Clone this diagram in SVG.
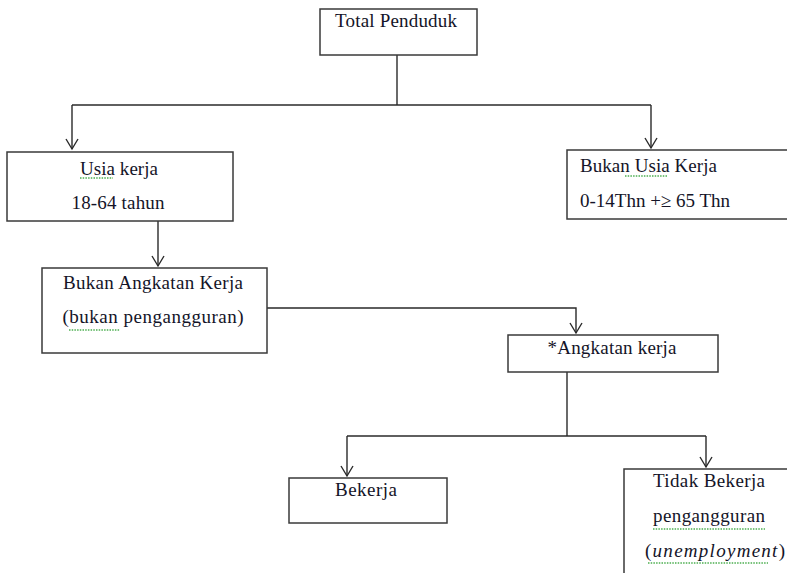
<svg xmlns="http://www.w3.org/2000/svg" width="787" height="573" viewBox="0 0 787 573">
<style>
.box{fill:#fff;stroke:#3a3a3a;stroke-width:1.5}
.ln{fill:none;stroke:#2a2a2a;stroke-width:1.4}
.t{font-family:"Liberation Serif","Times New Roman",serif;font-size:19px;fill:#141428}
.c{text-anchor:middle}
.sp{fill:none;stroke:#4caf50;stroke-width:1.3;stroke-dasharray:1.5 1.2}
</style>
<defs>
<marker id="ah" markerUnits="userSpaceOnUse" markerWidth="14" markerHeight="14" viewBox="-11 -7 12 14" refX="0" refY="0" orient="auto">
<path d="M-10,-6 L0,0 L-10,6" fill="none" stroke="#2a2a2a" stroke-width="1.4"/>
</marker>
</defs>
<rect width="787" height="573" fill="#fff"/>
<g id="connectors">
<path class="ln" d="M397,55 V105"/>
<path class="ln" d="M72,105 H651"/>
<path class="ln" d="M72,105 V149" marker-end="url(#ah)"/>
<path class="ln" d="M651,105 V148" marker-end="url(#ah)"/>
<path class="ln" d="M158,221 V266" marker-end="url(#ah)"/>
<path class="ln" d="M267,308 H576 V333" marker-end="url(#ah)"/>
<path class="ln" d="M567,372 V436"/>
<path class="ln" d="M347,436 H706"/>
<path class="ln" d="M347,436 V476" marker-end="url(#ah)"/>
<path class="ln" d="M706,436 V467" marker-end="url(#ah)"/>
</g>
<g id="total">
<rect class="box" x="320" y="9" width="157" height="46"/>
<text class="t c" x="396" y="27" textLength="122">Total Penduduk</text>
</g>
<g id="usia-kerja">
<rect class="box" x="7" y="152" width="226" height="69"/>
<text class="t c" x="119" y="175" textLength="78">Usia kerja</text>
<text class="t c" x="118" y="209" textLength="93">18-64 tahun</text>
<path class="sp" d="M80,178 H113"/>
</g>
<g id="bukan-usia-kerja">
<rect class="box" x="567" y="150" width="230" height="69"/>
<text class="t" x="580" y="172" textLength="137">Bukan Usia Kerja</text>
<text class="t" x="580" y="207" textLength="150">0-14Thn +≥ 65 Thn</text>
<path class="sp" d="M625,176 H668"/>
</g>
<g id="bukan-angkatan-kerja">
<rect class="box" x="42" y="268" width="225" height="85"/>
<text class="t c" x="153" y="289" textLength="180">Bukan Angkatan Kerja</text>
<text class="t c" x="153" y="323" textLength="181">(bukan pengangguran)</text>
<path class="sp" d="M69,330 H120"/>
</g>
<g id="angkatan-kerja">
<rect class="box" x="508" y="335" width="210" height="37"/>
<text class="t c" x="612" y="354" textLength="129">*Angkatan kerja</text>
</g>
<g id="bekerja">
<rect class="box" x="289" y="478" width="158" height="45"/>
<text class="t c" x="366" y="496" textLength="62">Bekerja</text>
</g>
<g id="tidak-bekerja">
<path class="box" d="M624,580 V469 H800"/>
<text class="t c" x="709" y="487" textLength="112">Tidak Bekerja</text>
<text class="t c" x="709" y="522" textLength="112">pengangguran</text>
<text class="t c" x="715" y="557" textLength="140">(<tspan font-style="italic">unemployment</tspan>)</text>
<path class="sp" d="M653,529 H765"/>
<path class="sp" d="M648,563 H768"/>
</g>
</svg>
